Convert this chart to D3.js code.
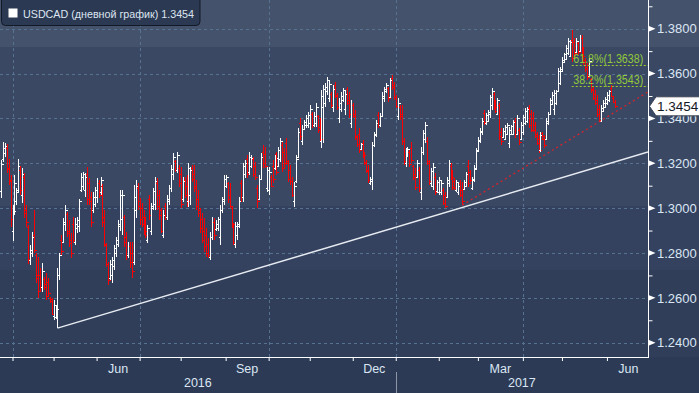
<!DOCTYPE html>
<html><head><meta charset="utf-8">
<script src="https://cdn.jsdelivr.net/npm/d3@7"></script>
<style>
html,body{margin:0;padding:0;background:#2c3a56;}
svg{display:block;font-family:"Liberation Sans",Arial,sans-serif;}
</style>
</head><body>
<svg id="chart" width="699" height="393"></svg>
<script>
// ---------------- DATA ----------------
const title = "USDCAD (дневной график)";
const startDate = "2016-03-24";   // first bar (weekday series)
const axisEndDate = "2017-07-31";
const opens = [
1.3075,1.3220,1.3245,1.3270,1.3180,1.3125,1.2900,1.2990,1.3030,1.3080,
1.3170,1.3060,1.3140,1.2990,1.2915,1.2770,1.2800,1.2880,1.2790,1.2700,
1.2700,1.2650,1.2685,1.2660,1.2670,1.2600,1.2595,1.2520,1.2515,1.2520,
1.2700,1.2860,1.2850,1.2930,1.2975,1.2900,1.2860,1.2930,1.2850,1.2910,
1.2920,1.3080,1.3100,1.3080,1.3150,1.3110,1.3050,1.2990,1.3020,1.3050,
1.3110,1.3070,1.3100,1.2960,1.2835,1.2750,1.2690,1.2700,1.2740,1.2800,
1.2840,1.2920,1.2950,1.2960,1.2870,1.2790,1.2830,1.2800,1.2760,1.2990,
1.3090,1.3030,1.3000,1.2960,1.2940,1.2860,1.3040,1.2900,1.3000,1.3020,
1.3110,1.3060,1.2990,1.2880,1.3010,1.2960,1.3030,1.3090,1.3150,1.3210,
1.3170,1.3180,1.3150,1.3040,1.3125,1.3100,1.3030,1.3060,1.3180,1.3150,
1.3100,1.3040,1.2990,1.2950,1.2900,1.2880,1.2840,1.2780,1.2870,1.2940,
1.2905,1.2910,1.2870,1.2990,1.3030,1.3100,1.3110,1.3060,1.3000,1.2925,
1.2840,1.2880,1.2920,1.3110,1.3050,1.3150,1.3220,1.3160,1.3190,1.3220,
1.3190,1.3090,1.3040,1.3130,1.3250,1.3240,1.3090,1.3080,1.3140,1.3190,
1.3180,1.3240,1.3190,1.3220,1.3280,1.3250,1.3290,1.3200,1.3170,1.3120,
1.3030,1.3120,1.3230,1.3380,1.3300,1.3355,1.3370,1.3370,1.3380,1.3420,
1.3370,1.3380,1.3410,1.3360,1.3300,1.3450,1.3470,1.3520,1.3490,1.3510,
1.3450,1.3550,1.3500,1.3400,1.3440,1.3480,1.3440,1.3530,1.3480,1.3380,
1.3460,1.3420,1.3315,1.3330,1.3265,1.3290,1.3240,1.3205,1.3170,1.3110,
1.3120,1.3280,1.3325,1.3415,1.3370,1.3410,1.3490,1.3520,1.3535,1.3495,
1.3580,1.3550,1.3495,1.3410,1.3450,1.3420,1.3300,1.3200,1.3235,1.3250,
1.3270,1.3190,1.3150,1.3140,1.3170,1.3070,1.3250,1.3310,1.3300,1.3200,
1.3110,1.3100,1.3140,1.3075,1.3070,1.3070,1.3080,1.3060,1.3050,1.3110,
1.3190,1.3150,1.3120,1.3080,1.3070,1.3110,1.3080,1.3085,1.3100,1.3190,
1.3160,1.3090,1.3125,1.3175,1.3260,1.3300,1.3340,1.3425,1.3380,1.3390,
1.3420,1.3460,1.3510,1.3470,1.3420,1.3460,1.3340,1.3315,1.3310,1.3330,
1.3290,1.3330,1.3330,1.3390,1.3330,1.3350,1.3310,1.3340,1.3380,1.3390,
1.3445,1.3420,1.3400,1.3370,1.3330,1.3310,1.3260,1.3335,1.3320,1.3310,
1.3380,1.3420,1.3465,1.3440,1.3470,1.3520,1.3560,1.3610,1.3650,1.3665,
1.3690,1.3680,1.3750,1.3740,1.3695,1.3735,1.3700,1.3760,1.3700,1.3660,
1.3630,1.3590,1.3575,1.3530,1.3510,1.3480,1.3440,1.3390,1.3435,1.3450,
1.3470,1.3480,1.3535,1.3490,1.3475
];
const highs = [
1.3214,1.3293,1.3290,1.3286,1.3218,1.3147,1.3013,1.3147,1.3089,1.3218,
1.3188,1.3180,1.3156,1.3013,1.2924,1.2835,1.2893,1.2991,1.2800,1.2782,
1.2733,1.2755,1.2693,1.2710,1.2689,1.2604,1.2600,1.2590,1.2565,1.2733,
1.2800,1.2880,1.2955,1.3013,1.2982,1.2946,1.2888,1.2960,1.2955,1.2960,
1.3040,1.3156,1.3160,1.3156,1.3183,1.3134,1.3071,1.3071,1.3094,1.3134,
1.3125,1.3138,1.3107,1.2991,1.2844,1.2759,1.2768,1.2780,1.2835,1.2870,
1.2946,1.3080,1.3080,1.2969,1.2893,1.2849,1.2849,1.2849,1.3103,1.3125,
1.3112,1.3044,1.3022,1.2991,1.2960,1.2924,1.3058,1.3022,1.3089,1.3138,
1.3134,1.3080,1.3000,1.2991,1.3022,1.3058,1.3103,1.3192,1.3245,1.3214,
1.3250,1.3192,1.3183,1.3138,1.3138,1.3147,1.3201,1.3183,1.3192,1.3192,
1.3125,1.3080,1.3000,1.2978,1.2955,1.2910,1.2866,1.2893,1.2960,1.2955,
1.2946,1.2960,1.3013,1.3049,1.3147,1.3147,1.3116,1.3112,1.3004,1.2933,
1.2938,1.2938,1.3049,1.3125,1.3201,1.3214,1.3236,1.3250,1.3236,1.3227,
1.3205,1.3103,1.3147,1.3245,1.3280,1.3272,1.3183,1.3183,1.3147,1.3214,
1.3236,1.3250,1.3272,1.3312,1.3294,1.3267,1.3312,1.3214,1.3192,1.3138,
1.3116,1.3236,1.3357,1.3400,1.3370,1.3392,1.3414,1.3428,1.3459,1.3428,
1.3428,1.3468,1.3414,1.3400,1.3526,1.3548,1.3557,1.3584,1.3570,1.3517,
1.3548,1.3562,1.3513,1.3490,1.3517,1.3535,1.3526,1.3540,1.3517,1.3481,
1.3468,1.3437,1.3325,1.3357,1.3290,1.3303,1.3250,1.3214,1.3192,1.3138,
1.3294,1.3339,1.3392,1.3428,1.3423,1.3517,1.3540,1.3557,1.3540,1.3580,
1.3593,1.3562,1.3504,1.3490,1.3459,1.3459,1.3312,1.3267,1.3272,1.3260,
1.3294,1.3192,1.3180,1.3214,1.3183,1.3272,1.3348,1.3383,1.3316,1.3214,
1.3180,1.3201,1.3156,1.3125,1.3138,1.3125,1.3089,1.3071,1.3138,1.3214,
1.3201,1.3170,1.3134,1.3125,1.3112,1.3125,1.3116,1.3125,1.3160,1.3214,
1.3170,1.3138,1.3192,1.3267,1.3316,1.3357,1.3400,1.3437,1.3423,1.3437,
1.3504,1.3535,1.3517,1.3481,1.3490,1.3468,1.3357,1.3357,1.3370,1.3379,
1.3361,1.3370,1.3392,1.3400,1.3414,1.3357,1.3383,1.3414,1.3446,1.3450,
1.3459,1.3437,1.3428,1.3383,1.3339,1.3325,1.3339,1.3339,1.3325,1.3400,
1.3428,1.3490,1.3517,1.3526,1.3526,1.3624,1.3629,1.3673,1.3691,1.3727,
1.3758,1.3750,1.3794,1.3758,1.3758,1.3740,1.3772,1.3772,1.3718,1.3669,
1.3647,1.3669,1.3580,1.3540,1.3526,1.3504,1.3459,1.3459,1.3481,1.3495,
1.3517,1.3526,1.3548,1.3495,1.3481
];
const lows = [
1.3044,1.3207,1.3227,1.3156,1.3103,1.2915,1.2855,1.2969,1.3013,1.3071,
1.3058,1.3022,1.2955,1.2915,1.2753,1.2746,1.2780,1.2800,1.2666,1.2599,
1.2626,1.2626,1.2635,1.2590,1.2604,1.2577,1.2523,1.2501,1.2505,1.2465,
1.2680,1.2790,1.2845,1.2900,1.2870,1.2826,1.2777,1.2844,1.2835,1.2888,
1.2893,1.3071,1.3080,1.3049,1.3013,1.3013,1.2915,1.2978,1.3004,1.3022,
1.3044,1.3058,1.2915,1.2826,1.2737,1.2657,1.2679,1.2666,1.2724,1.2780,
1.2826,1.2900,1.2880,1.2826,1.2768,1.2777,1.2733,1.2688,1.2746,1.2955,
1.2991,1.2924,1.2915,1.2880,1.2866,1.2844,1.2946,1.2880,1.2991,1.2991,
1.2991,1.2946,1.2888,1.2866,1.2946,1.2946,1.3013,1.3071,1.3125,1.3160,
1.3156,1.3094,1.3000,1.3027,1.3044,1.3004,1.3004,1.3013,1.3116,1.3071,
1.2991,1.2960,1.2888,1.2844,1.2804,1.2780,1.2777,1.2768,1.2857,1.2857,
1.2900,1.2900,1.2835,1.2978,1.3013,1.3089,1.3022,1.3000,1.2910,1.2835,
1.2822,1.2857,1.2910,1.3027,1.3027,1.3134,1.3134,1.3147,1.3180,1.3138,
1.3125,1.3000,1.3036,1.3125,1.3180,1.3180,1.3071,1.3058,1.3094,1.3112,
1.3170,1.3147,1.3183,1.3205,1.3160,1.3180,1.3192,1.3116,1.3103,1.3049,
1.3004,1.3112,1.3227,1.3303,1.3280,1.3348,1.3357,1.3357,1.3348,1.3357,
1.3361,1.3361,1.3334,1.3294,1.3268,1.3290,1.3450,1.3504,1.3473,1.3446,
1.3428,1.3490,1.3437,1.3379,1.3428,1.3473,1.3414,1.3459,1.3400,1.3357,
1.3400,1.3303,1.3272,1.3245,1.3259,1.3223,1.3192,1.3156,1.3112,1.3103,
1.3080,1.3272,1.3316,1.3357,1.3361,1.3405,1.3473,1.3513,1.3473,1.3490,
1.3526,1.3481,1.3446,1.3392,1.3392,1.3280,1.3192,1.3183,1.3227,1.3183,
1.3201,1.3125,1.3080,1.3134,1.3071,1.3036,1.3236,1.3290,1.3192,1.3103,
1.3094,1.3080,1.3058,1.3067,1.3058,1.3058,1.3013,1.3000,1.3044,1.3094,
1.3125,1.3080,1.3080,1.3071,1.3058,1.3049,1.3013,1.3080,1.3094,1.3094,
1.3116,1.3080,1.3116,1.3170,1.3259,1.3290,1.3325,1.3370,1.3370,1.3383,
1.3400,1.3437,1.3437,1.3423,1.3414,1.3303,1.3280,1.3312,1.3303,1.3325,
1.3268,1.3325,1.3325,1.3312,1.3325,1.3280,1.3305,1.3325,1.3370,1.3379,
1.3357,1.3339,1.3339,1.3312,1.3280,1.3245,1.3250,1.3303,1.3268,1.3303,
1.3370,1.3414,1.3459,1.3414,1.3459,1.3517,1.3548,1.3607,1.3647,1.3660,
1.3682,1.3673,1.3651,1.3669,1.3691,1.3682,1.3696,1.3669,1.3638,1.3607,
1.3571,1.3584,1.3513,1.3481,1.3459,1.3406,1.3383,1.3383,1.3428,1.3446,
1.3459,1.3473,1.3495,1.3468,1.3446
];
const closes = [
1.3195,1.3270,1.3275,1.3175,1.3120,1.2950,1.2985,1.3110,1.3070,1.3190,
1.3080,1.3150,1.2980,1.2940,1.2775,1.2815,1.2870,1.2815,1.2690,1.2630,
1.2650,1.2720,1.2650,1.2610,1.2620,1.2585,1.2530,1.2570,1.2550,1.2700,
1.2790,1.2810,1.2940,1.2990,1.2890,1.2845,1.2800,1.2860,1.2930,1.2945,
1.3030,1.3140,1.3150,1.3140,1.3040,1.3030,1.2940,1.3050,1.3080,1.3110,
1.3060,1.3125,1.2940,1.2840,1.2750,1.2680,1.2750,1.2770,1.2820,1.2860,
1.2930,1.3060,1.3060,1.2850,1.2790,1.2830,1.2760,1.2720,1.3050,1.3100,
1.3010,1.2950,1.2930,1.2900,1.2880,1.2910,1.2970,1.3010,1.3075,1.3120,
1.3010,1.2970,1.2900,1.2970,1.2960,1.3040,1.3090,1.3175,1.3230,1.3170,
1.3235,1.3110,1.3020,1.3120,1.3060,1.3030,1.3180,1.3170,1.3130,1.3090,
1.3010,1.2980,1.2910,1.2860,1.2830,1.2800,1.2790,1.2870,1.2940,1.2880,
1.2930,1.2950,1.2990,1.3040,1.3130,1.3140,1.3040,1.3010,1.2930,1.2850,
1.2920,1.2930,1.3030,1.3050,1.3190,1.3200,1.3150,1.3230,1.3225,1.3150,
1.3140,1.3030,1.3130,1.3230,1.3200,1.3190,1.3170,1.3160,1.3100,1.3130,
1.3225,1.3160,1.3260,1.3300,1.3180,1.3200,1.3210,1.3130,1.3120,1.3060,
1.3100,1.3220,1.3340,1.3320,1.3355,1.3385,1.3400,1.3415,1.3440,1.3370,
1.3410,1.3450,1.3350,1.3310,1.3500,1.3530,1.3540,1.3570,1.3555,1.3460,
1.3530,1.3505,1.3450,1.3470,1.3500,1.3525,1.3510,1.3470,1.3420,1.3460,
1.3410,1.3320,1.3285,1.3260,1.3285,1.3235,1.3200,1.3165,1.3125,1.3130,
1.3280,1.3330,1.3380,1.3370,1.3410,1.3500,1.3530,1.3550,1.3490,1.3570,
1.3540,1.3495,1.3455,1.3470,1.3410,1.3300,1.3210,1.3250,1.3265,1.3195,
1.3215,1.3140,1.3095,1.3200,1.3090,1.3250,1.3335,1.3370,1.3210,1.3120,
1.3165,1.3185,1.3070,1.3115,1.3125,1.3110,1.3025,1.3010,1.3125,1.3200,
1.3140,1.3095,1.3090,1.3115,1.3100,1.3060,1.3030,1.3115,1.3150,1.3110,
1.3125,1.3130,1.3180,1.3255,1.3305,1.3345,1.3390,1.3385,1.3415,1.3430,
1.3495,1.3520,1.3450,1.3435,1.3480,1.3320,1.3300,1.3345,1.3360,1.3370,
1.3350,1.3365,1.3385,1.3330,1.3400,1.3295,1.3370,1.3405,1.3435,1.3440,
1.3370,1.3350,1.3350,1.3320,1.3290,1.3260,1.3325,1.3310,1.3280,1.3390,
1.3420,1.3480,1.3505,1.3515,1.3520,1.3610,1.3620,1.3660,1.3685,1.3715,
1.3745,1.3740,1.3670,1.3690,1.3745,1.3695,1.3760,1.3680,1.3650,1.3620,
1.3585,1.3655,1.3525,1.3490,1.3470,1.3420,1.3395,1.3445,1.3470,1.3485,
1.3505,1.3520,1.3500,1.3475,1.3454
];
const yTicks = [1.24, 1.26, 1.28, 1.30, 1.32, 1.34, 1.36, 1.38];
const yMinorTicks = [1.25, 1.27, 1.29, 1.31, 1.33, 1.35, 1.37, 1.39];
const labelMonths = ["Jun", "Sep", "Dec", "Mar"];
const gridMonths = [0, 3, 6, 9];           // quarter starts: Jan, Apr, Jul, Oct
const trendLine = [{i: 29, p: 1.2465}, {i: 331, p: 1.3250}];
const supportLine = [{i: 236, p: 1.3013}, {i: 331, p: 1.3518}];
const fibLevels = [{label: "61.8%(1.3638)", value: 1.3638}, {label: "38.2%(1.3543)", value: 1.3543}];
const fibStartIndex = 292;
const lastPrice = 1.3454;

// ---------------- DRAW ----------------
const svg = d3.select("#chart");
const W = 699, H = 393, plotR = 648, plotB = 357;

// background bands
const bands = [
  {y0: 0, y1: 47, c: "#45526c"},
  {y0: 47, y1: 206, c: "#3a4864"},
  {y0: 206, y1: 270, c: "#34425f"},
  {y0: 270, y1: 357, c: "#303e5a"},
  {y0: 357, y1: 393, c: "#2c3a56"}
];
svg.selectAll("rect.band").data(bands).enter().append("rect")
  .attr("x", 0).attr("width", W).attr("y", d => d.y0).attr("height", d => d.y1 - d.y0)
  .attr("fill", d => d.c);

const parse = d3.timeParse("%Y-%m-%d");
const days = d3.timeDay.range(parse(startDate), d3.timeDay.offset(parse(axisEndDate), 1))
  .filter(d => d.getDay() !== 0 && d.getDay() !== 6);

const x = d3.scaleLinear().domain([-0.4, 331]).range([0, plotR]);
const y = d3.scaleLinear().domain([1.24, 1.38]).range([342.7, 28.7]);

// month starts
const monthStarts = [];
days.forEach((d, i) => { if (i > 0 && d.getMonth() !== days[i - 1].getMonth()) monthStarts.push(i); });
const fmtMon = d3.timeFormat("%b");

const defs = svg.append("defs");
defs.append("clipPath").attr("id", "plotclip").append("rect")
  .attr("x", 0).attr("y", 0).attr("width", plotR).attr("height", plotB);

const gridColor = "#557290";
// horizontal grid
svg.append("g").selectAll("line").data(yTicks).enter().append("line")
  .attr("x1", 0).attr("x2", plotR)
  .attr("y1", d => Math.round(y(d)) + 0.5).attr("y2", d => Math.round(y(d)) + 0.5)
  .attr("stroke", gridColor).attr("stroke-width", 1).attr("stroke-dasharray", "3,3");
// vertical grid at quarter starts
const qStarts = monthStarts.filter(i => gridMonths.includes(days[i].getMonth()) && x(i) < plotR);
svg.append("g").selectAll("line").data(qStarts).enter().append("line")
  .attr("x1", i => Math.round(x(i)) + 0.5).attr("x2", i => Math.round(x(i)) + 0.5)
  .attr("y1", 0).attr("y2", plotB)
  .attr("stroke", gridColor).attr("stroke-width", 1).attr("stroke-dasharray", "3,3");

const plot = svg.append("g").attr("clip-path", "url(#plotclip)");

// OHLC bars (crisp 1px)
const bars = d3.range(closes.length);
plot.append("g").attr("shape-rendering", "crispEdges").selectAll("path").data(bars).enter().append("path")
  .attr("d", i => {
    const xi = Math.round(x(i)) + 0.5;
    const yh = Math.round(y(highs[i])), yl = Math.round(y(lows[i]));
    const yo = Math.round(y(opens[i])) + 0.5, yc = Math.round(y(closes[i])) + 0.5;
    return `M${xi},${yh}V${Math.max(yl, yh + 2)}` +
           `M${xi - 2},${yo}H${xi}` +
           `M${xi},${yc}H${xi + 2}`;
  })
  .attr("fill", "none")
  .attr("stroke", i => closes[i] >= opens[i] ? "#ffffff" : "#ff0000")
  .attr("stroke-width", 1);

// trend lines
const lineGen = d3.line().x(d => x(d.i)).y(d => y(d.p));
plot.append("path").attr("d", lineGen(trendLine))
  .attr("fill", "none").attr("stroke", "#e8ecf2").attr("stroke-width", 1.5);
plot.append("path").attr("d", lineGen(supportLine))
  .attr("fill", "none").attr("stroke", "#d8232a").attr("stroke-width", 1.3).attr("stroke-dasharray", "2,3");

// fibonacci levels
const fibG = plot.append("g");
fibG.selectAll("line").data(fibLevels).enter().append("line")
  .attr("x1", x(fibStartIndex)).attr("x2", plotR)
  .attr("y1", d => Math.round(y(d.value)) + 0.5).attr("y2", d => Math.round(y(d.value)) + 0.5)
  .attr("stroke", "#9ccc2a").attr("stroke-width", 1).attr("stroke-dasharray", "2,2");
fibG.selectAll("text").data(fibLevels).enter().append("text")
  .attr("x", x(fibStartIndex) + 1.5).attr("y", d => y(d.value) - 2)
  .attr("fill", "#92c83a").attr("font-size", 12)
  .attr("textLength", 70).attr("lengthAdjust", "spacingAndGlyphs")
  .text(d => d.label);

// axes lines
svg.append("line").attr("x1", plotR + 0.5).attr("x2", plotR + 0.5).attr("y1", 0).attr("y2", plotB + 0.5)
  .attr("stroke", "#ffffff").attr("stroke-width", 1);
svg.append("line").attr("x1", 0).attr("x2", plotR + 1).attr("y1", plotB + 0.5).attr("y2", plotB + 0.5)
  .attr("stroke", "#ffffff").attr("stroke-width", 1);

// right axis (labels via d3 axis)
const yAxis = d3.axisRight(y).tickValues(yTicks).tickSize(0).tickPadding(9)
  .tickFormat(d3.format(".4f"));
const yAxisG = svg.append("g").attr("transform", `translate(${plotR},0)`).call(yAxis);
yAxisG.select(".domain").remove();
yAxisG.selectAll("text").attr("fill", "#dbe6f3").attr("font-size", 13)
  .attr("font-family", '"Liberation Sans",Arial,sans-serif');
// triangles for major ticks
svg.append("g").selectAll("path").data(yTicks).enter().append("path")
  .attr("d", d => { const yy = y(d); return `M${plotR + 1},${yy - 2.7}L${plotR + 7.5},${yy}L${plotR + 1},${yy + 2.7}Z`; })
  .attr("fill", "#ffffff");
// minor ticks
const yMinor = d3.axisRight(y).tickValues(yMinorTicks).tickSize(4).tickFormat("");
const yMinorG = svg.append("g").attr("transform", `translate(${plotR + 0.5},0)`).call(yMinor);
yMinorG.select(".domain").remove();
yMinorG.selectAll("line").attr("stroke", "#ffffff");

// bottom axis month ticks
const visMonths = monthStarts.filter(i => x(i) <= plotR);
const xAxis = d3.axisBottom(x).tickValues(visMonths).tickSize(4).tickFormat("");
const xAxisG = svg.append("g").attr("transform", `translate(0,${plotB})`).call(xAxis);
xAxisG.select(".domain").remove();
xAxisG.selectAll("line").attr("stroke", "#ffffff");

// month labels (centre of month)
const monthLabels = [];
for (let k = 0; k < monthStarts.length - 1; k++) {
  const a = monthStarts[k], b = monthStarts[k + 1];
  const name = fmtMon(days[a]);
  if (labelMonths.includes(name) && x(a) < plotR) monthLabels.push({name, i: (a + b) / 2});
}
svg.append("g").selectAll("text").data(monthLabels).enter().append("text")
  .attr("x", d => x(d.i)).attr("y", 373).attr("text-anchor", "middle")
  .attr("fill", "#dbe6f3").attr("font-size", 12.5).text(d => d.name);

// year labels
const yearStarts = monthStarts.filter(i => days[i].getMonth() === 0);
const years = [];
let prev = -0.4;
[...yearStarts, 331].forEach(i => {
  const xa = Math.max(0, x(prev)), xb = Math.min(plotR, x(i));
  const ref = days[Math.max(0, Math.ceil(prev))];
  years.push({label: d3.timeFormat("%Y")(ref), cx: (xa + xb) / 2});
  prev = i;
});
svg.append("g").selectAll("text").data(years).enter().append("text")
  .attr("x", d => d.cx).attr("y", 387).attr("text-anchor", "middle")
  .attr("fill", "#dbe6f3").attr("font-size", 12.5).text(d => d.label);
svg.append("g").selectAll("line").data(yearStarts.filter(i => x(i) < plotR)).enter().append("line")
  .attr("x1", i => Math.round(x(i)) + 0.5).attr("x2", i => Math.round(x(i)) + 0.5)
  .attr("y1", 372).attr("y2", 393).attr("stroke", "#8b95a6").attr("stroke-width", 1);

// last price tag
const ly = y(lastPrice);
svg.append("path")
  .attr("d", `M${plotR + 1.5},${ly}L${plotR + 8},${ly - 9.5}H${W + 2}V${ly + 9.5}H${plotR + 8}Z`)
  .attr("fill", "#ffffff").attr("stroke", "#3c4556").attr("stroke-width", 1);
svg.append("text").attr("x", plotR + 9).attr("y", ly + 5)
  .attr("fill", "#141a24").attr("font-size", 13.5).text(d3.format(".4f")(lastPrice));

// legend box
const lg = svg.append("g");
lg.append("rect").attr("x", 1.5).attr("y", -4).attr("width", 198.5).attr("height", 29.5).attr("rx", 4)
  .attr("fill", "#2c3953").attr("stroke", "#131a27").attr("stroke-width", 1);
lg.append("rect").attr("x", 8.5).attr("y", 8.5).attr("width", 9).attr("height", 9).attr("fill", "#ffffff");
lg.append("text").attr("x", 23).attr("y", 17.5).attr("fill", "#dce5f0").attr("font-size", 11.5)
  .attr("textLength", 171).attr("lengthAdjust", "spacingAndGlyphs")
  .text(title + "  " + d3.format(".4f")(lastPrice));
</script>
</body></html>
